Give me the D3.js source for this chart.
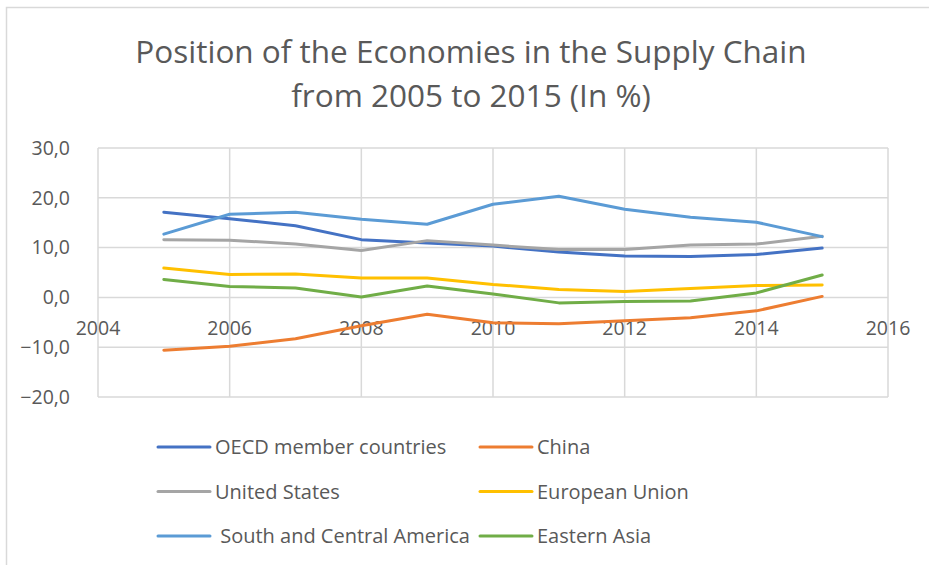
<!DOCTYPE html>
<html>
<head>
<meta charset="utf-8">
<script src="https://cdn.jsdelivr.net/npm/d3@7"></script>
<style>
  html, body { margin: 0; padding: 0; background: #fff; }
  svg { display: block; font-family: "Open Sans", Lato, sans-serif; }
</style>
</head>
<body>
<svg id="chart" width="929" height="565"></svg>
<script>
// Years on the x axis and the position index of each economy (in %)
const years = [2005, 2006, 2007, 2008, 2009, 2010, 2011, 2012, 2013, 2014, 2015];
const oecd        = [17.1, 15.8, 14.4, 11.6, 10.9, 10.3, 9.1, 8.3, 8.2, 8.6, 9.9];
const china       = [-10.6, -9.8, -8.3, -5.7, -3.4, -5.1, -5.3, -4.7, -4.1, -2.7, 0.2];
const usa         = [11.6, 11.5, 10.7, 9.4, 11.4, 10.5, 9.6, 9.6, 10.5, 10.7, 12.3];
const eu          = [5.9, 4.6, 4.7, 3.9, 3.9, 2.6, 1.6, 1.2, 1.8, 2.4, 2.5];
const southCentralAmerica = [12.7, 16.7, 17.1, 15.7, 14.7, 18.7, 20.3, 17.7, 16.1, 15.1, 12.2];
const easternAsia = [3.6, 2.2, 1.9, 0.1, 2.3, 0.7, -1.1, -0.8, -0.7, 0.9, 4.5];

const seriesNames = ["OECD member countries", "China", "United States", "European Union",
                     " South and Central America", "Eastern Asia"];
const seriesValues = [oecd, china, usa, eu, southCentralAmerica, easternAsia];
const seriesColors = ["#4472C4", "#ED7D31", "#A5A5A5", "#FFC000", "#5B9BD5", "#70AD47"];

const xTicks = [2004, 2006, 2008, 2010, 2012, 2014, 2016];
const yTicks = [-20, -10, 0, 10, 20, 30];
const titleLines = ["Position of the Economies in the Supply Chain", "from 2005 to 2015 (In %)"];

const svg = d3.select("#chart");
const textColor = "#595959";
const gridColor = "#D9D9D9";

// Chart frame
svg.append("path")
  .attr("d", "M6.5,565 V7.5 H929")
  .attr("fill", "none")
  .attr("stroke", gridColor)
  .attr("stroke-width", 1.5);

// Title
svg.append("text")
  .attr("x", 471).attr("y", 63)
  .attr("text-anchor", "middle")
  .attr("fill", textColor)
  .attr("font-size", 31.5)
  .selectAll("tspan")
  .data(titleLines)
  .join("tspan")
  .attr("x", 471)
  .attr("dy", (d, i) => i === 0 ? 0 : 44)
  .text(d => d);

// Scales
const plot = { left: 98, right: 888, top: 148, bottom: 397 };
const x = d3.scaleLinear().domain([2004, 2016]).range([plot.left, plot.right]);
const y = d3.scaleLinear().domain([-20, 30]).range([plot.bottom, plot.top]);

// Horizontal gridlines
svg.append("g")
  .selectAll("line")
  .data(yTicks)
  .join("line")
  .attr("x1", plot.left).attr("x2", plot.right)
  .attr("y1", d => y(d)).attr("y2", d => y(d))
  .attr("stroke", gridColor).attr("stroke-width", 1.5);

// Vertical gridlines
svg.append("g")
  .selectAll("line")
  .data(xTicks)
  .join("line")
  .attr("x1", d => x(d)).attr("x2", d => x(d))
  .attr("y1", plot.top).attr("y2", plot.bottom)
  .attr("stroke", gridColor).attr("stroke-width", 1.5);

// Y axis labels
const fmt = d => d3.format(".1f")(d).replace(".", ",");
svg.append("g")
  .selectAll("text")
  .data(yTicks)
  .join("text")
  .attr("x", 70)
  .attr("y", d => y(d))
  .attr("dy", "0.35em")
  .attr("text-anchor", "end")
  .attr("fill", textColor)
  .attr("font-size", 19.5)
  .text(fmt);

// X axis labels sit below the zero line
svg.append("g")
  .selectAll("text")
  .data(xTicks)
  .join("text")
  .attr("x", d => x(d))
  .attr("y", y(0) + 38)
  .attr("text-anchor", "middle")
  .attr("fill", textColor)
  .attr("font-size", 19.5)
  .text(d => d);

// Series lines
const line = d3.line()
  .x((d, i) => x(years[i]))
  .y(d => y(d));

svg.append("g")
  .selectAll("path")
  .data(seriesValues)
  .join("path")
  .attr("d", d => line(d))
  .attr("fill", "none")
  .attr("stroke", (d, i) => seriesColors[i])
  .attr("stroke-width", 3)
  .attr("stroke-linejoin", "round")
  .attr("stroke-linecap", "round");

// Legend: two columns, three rows
const legend = svg.append("g")
  .selectAll("g")
  .data(seriesNames)
  .join("g")
  .attr("transform", (d, i) => `translate(${i % 2 === 0 ? 158 : 480},${447 + Math.floor(i / 2) * 44.5})`);

legend.append("line")
  .attr("x1", 0).attr("x2", 52)
  .attr("stroke", (d, i) => seriesColors[i])
  .attr("stroke-width", 3)
  .attr("stroke-linecap", "round");

legend.append("text")
  .attr("x", 57)
  .attr("dy", "0.35em")
  .attr("fill", textColor)
  .attr("font-size", 20)
  .attr("xml:space", "preserve")
  .style("white-space", "pre")
  .text(d => d);
</script>
</body>
</html>
